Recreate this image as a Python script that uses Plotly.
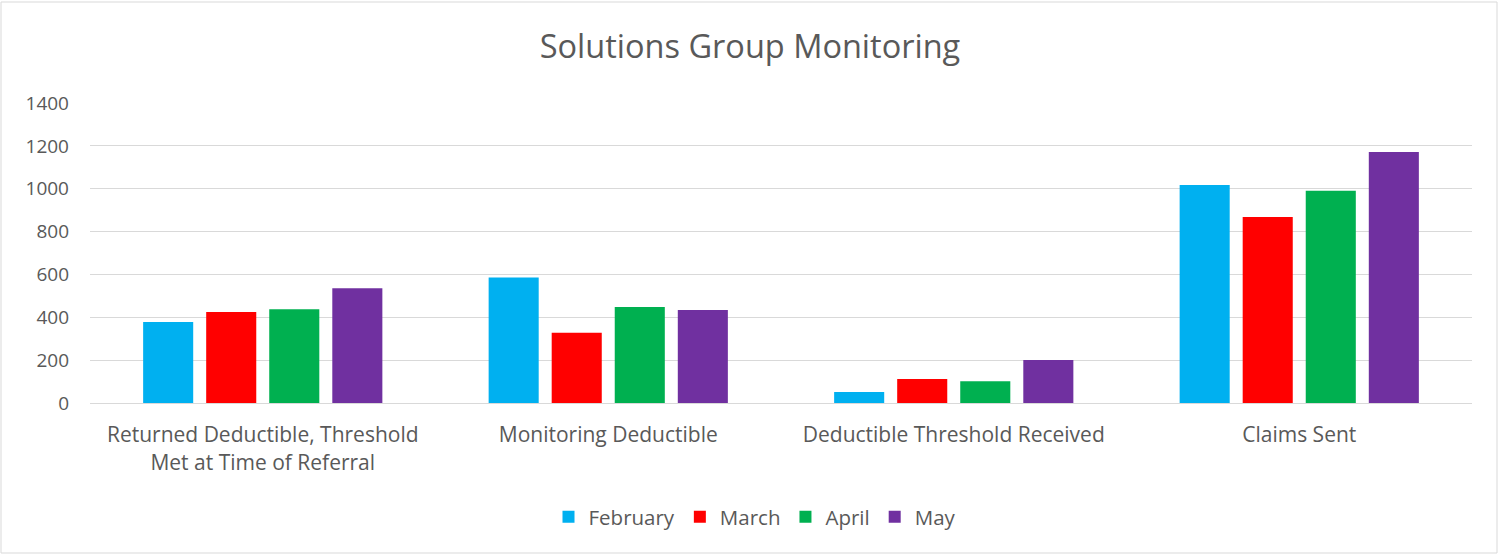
import plotly.graph_objects as go

categories = ["Returned Deductible, Threshold<br>Met at Time of Referral",
              "Monitoring Deductible",
              "Deductible Threshold Received",
              "Claims Sent"]
february = [378, 586, 51, 1017]
march = [425, 328, 112, 868]
april = [437, 448, 101, 991]
may = [535, 434, 201, 1171]

series = [("February", february, "#00B0F0"),
          ("March", march, "#FF0000"),
          ("April", april, "#00B050"),
          ("May", may, "#7030A0")]

W, H = 1499, 555
L, R, T, B = 90, 27, 103, 152

fig = go.Figure()
for name, vals, col in series:
    fig.add_trace(go.Bar(name=name, x=categories, y=vals, marker_color=col,
                         marker_line_width=0))

pw = W - L - R
ph = H - T - B
def px_x(p):
    return (p - L) / pw
def px_y(p):
    return (H - B - p) / ph

fig.add_shape(type="rect", xref="paper", yref="paper",
              x0=px_x(1), x1=px_x(1497), y0=px_y(553), y1=px_y(2),
              line=dict(color="#D9D9D9", width=1), fillcolor="rgba(0,0,0,0)", layer="below")

font = "Open Sans, Liberation Sans, sans-serif"
fig.update_layout(
    width=W, height=H,
    margin=dict(l=L, r=R, t=T, b=B, autoexpand=False),
    paper_bgcolor="white", plot_bgcolor="white",
    barmode="group", bargap=0.27, bargroupgap=0.206,
    title=dict(text="Solutions Group Monitoring", x=px_x(750), xanchor="center", xref="paper",
               y=1 - 47 / H, yanchor="middle",
               font=dict(family=font, size=32.5, color="#595959")),
    font=dict(family=font, size=20, color="#595959"),
    xaxis=dict(showline=True, linecolor="#D9D9D9", linewidth=1,
               tickfont=dict(size=21, color="#595959"), ticks="", showgrid=False,
               ticklabelstandoff=13),
    yaxis=dict(range=[0, 1400], dtick=200, showgrid=True, gridcolor="#D9D9D9",
               gridwidth=1, zeroline=False, ticks="", ticklabelstandoff=20,
               tickfont=dict(size=19, color="#595959")),
    legend=dict(orientation="h", x=px_x(755), xanchor="center", y=px_y(517), yanchor="middle",
                font=dict(size=20.5, color="#595959"), itemwidth=30, traceorder="normal"),
)

fig.write_html("out.html", config={"displayModeBar": False},
               post_script="document.body.style.margin='0';document.body.style.overflow='hidden';")
